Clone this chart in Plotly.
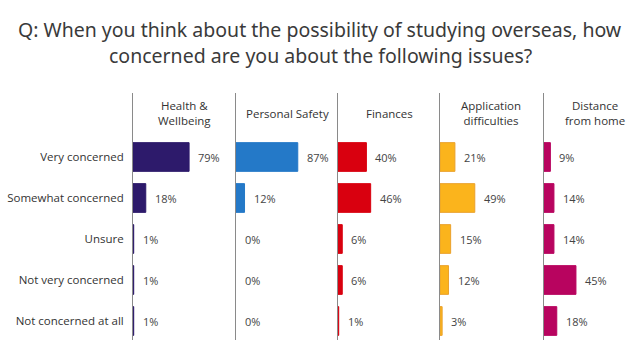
import plotly.graph_objects as go

categories = ["Very concerned", "Somewhat concerned", "Unsure", "Not very concerned", "Not concerned at all"]
panels = ["Health &<br>Wellbeing", "Personal Safety", "Finances", "Application<br>difficulties", "Distance<br>from home"]
health = [79, 18, 1, 1, 1]
safety = [87, 12, 0, 0, 0]
finances = [40, 46, 6, 6, 1]
application = [21, 49, 15, 12, 3]
distance = [9, 14, 14, 45, 18]
series = [health, safety, finances, application, distance]
colors = ["#2d1a6b", "#2479c8", "#d9000f", "#fbb41c", "#b8045f"]
outlines = ["#2d1a6b", "#2479c8", "#d9000f", "#eaa12c", "#b8045f"]
title_lines = [
    "Q: When you think about the possibility of studying overseas, how",
    "concerned are you about the following issues?",
]

W, H = 640, 352
panel_left = [133, 236, 338, 440, 544]
panel_w = 100
px_per_pct = 0.71
y_top_px, y_bot_px = 93, 340
row_h = 41
first_center = 157

fig = go.Figure()
font_main = "Open Sans, Noto Sans, sans-serif"

ytop = 1 - y_top_px / H
ybot = 1 - y_bot_px / H
r0 = -(first_center - y_top_px) / row_h
r1 = 4 + (y_bot_px - (first_center + 4 * row_h)) / row_h

for i, vals in enumerate(series):
    n = "" if i == 0 else str(i + 1)
    xa = "x" + n
    ya = "y" + n
    fig.add_trace(go.Bar(
        x=vals, y=list(range(len(categories))), orientation="h",
        marker=dict(color=colors[i],
                    line=dict(color=outlines[i], width=[1 if v > 0 else 0 for v in vals])),
        width=0.7, xaxis=xa, yaxis=ya, showlegend=False, hoverinfo="skip",
    ))
    for j, v in enumerate(vals):
        fig.add_annotation(
            x=v, y=j, xref=xa, yref=ya, text=f"{v}%", showarrow=False,
            xanchor="left", xshift=7, font=dict(size=11, color="#444444", family=font_main),
        )
    pw = min(panel_w, W - panel_left[i])
    d0 = panel_left[i] / W
    d1 = (panel_left[i] + pw) / W
    fig.layout["xaxis" + n] = dict(
        domain=[d0, d1], range=[0, pw / px_per_pct], visible=False,
        anchor=ya, fixedrange=True,
    )
    fig.layout["yaxis" + n] = dict(
        domain=[ybot, ytop], range=[r1, r0], anchor=xa,
        tickmode="array", tickvals=list(range(len(categories))),
        ticktext=categories, showticklabels=(i == 0),
        showline=True, linecolor="#8a8a8a", linewidth=1,
        showgrid=False, zeroline=False, ticks="",
        tickfont=dict(size=11.5, color="#333333", family=font_main),
        ticklabelstandoff=6,
    )
    cx = (panel_left[i] + 51) / W
    fig.add_annotation(
        x=cx, y=1 - 113 / H, xref="paper", yref="paper",
        text=panels[i], showarrow=False,
        xanchor="center", yanchor="middle",
        font=dict(size=11.5, color="#333333", family=font_main),
    )

for k, line in enumerate(title_lines):
    fig.add_annotation(
        x=0.5, y=1 - (29 + 26 * k) / H, xref="paper", yref="paper",
        text=line, showarrow=False, xanchor="center", yanchor="middle",
        font=dict(size=19.5, color="#3a3a3a", family="Noto Sans, sans-serif"),
    )

fig.update_layout(
    width=W, height=H,
    margin=dict(l=0, r=0, t=0, b=0),
    paper_bgcolor="white", plot_bgcolor="white",
)

fig.write_html("out.html")
